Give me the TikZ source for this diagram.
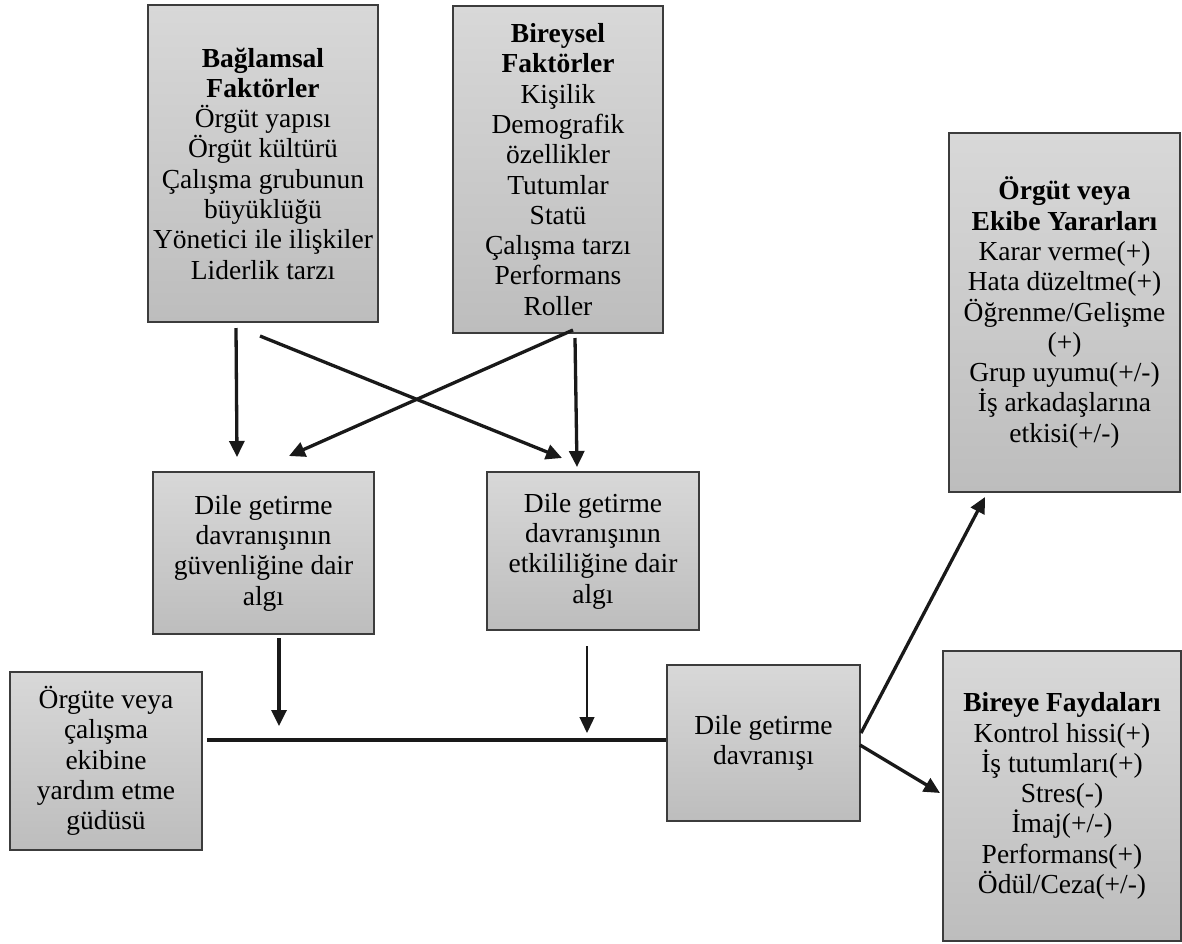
\documentclass[tikz,border=0pt]{standalone}
\usepackage{fontspec}
\setmainfont{Liberation Serif}
\usetikzlibrary{arrows.meta}
\definecolor{boxtop}{RGB}{216,216,216}
\definecolor{boxbot}{RGB}{189,189,189}
\definecolor{boxline}{RGB}{60,60,60}
\definecolor{arrcol}{RGB}{25,25,25}
\tikzset{
  box/.style={draw=boxline, line width=1.1pt, top color=boxtop, bottom color=boxbot,
    align=center, inner sep=0pt, font=\fontsize{27.5}{30.3}\selectfont},
  arr/.style={draw=arrcol, line width=3.3pt, -{Triangle[length=16pt,width=15pt]}},
  thinarr/.style={draw=arrcol, line width=1.3pt, -{Triangle[length=16pt,width=15pt]}},
  hline/.style={draw=arrcol, line width=4pt}
}
\begin{document}
\begin{tikzpicture}[x=1pt,y=-1pt]
\useasboundingbox (0,0) rectangle (1182,943);
\fill[white] (0,0) rectangle (1182,943);

\node[box, minimum width=230pt, minimum height=317pt] (b1) at (263,163.5)
  {\textbf{Bağlamsal}\\\textbf{Faktörler}\\Örgüt yapısı\\Örgüt kültürü\\Çalışma grubunun\\büyüklüğü\\Yönetici ile ilişkiler\\Liderlik tarzı};
\node[box, minimum width=210pt, minimum height=327pt] (b2) at (558,169.5)
  {\textbf{Bireysel}\\\textbf{Faktörler}\\Kişilik\\Demografik\\özellikler\\Tutumlar\\Statü\\Çalışma tarzı\\Performans\\Roller};
\node[box, minimum width=231pt, minimum height=359pt] (b3) at (1064.5,312.5)
  {\textbf{Örgüt veya}\\\textbf{Ekibe Yararları}\\Karar verme(+)\\Hata düzeltme(+)\\Öğrenme/Gelişme\\(+)\\Grup uyumu(+/-)\\İş arkadaşlarına\\etkisi(+/-)};
\node[box, minimum width=221pt, minimum height=162pt] (b4) at (263.5,553)
  {Dile getirme\\davranışının\\güvenliğine dair\\algı};
\node[box, minimum width=212pt, minimum height=158pt] (b5) at (593,551)
  {Dile getirme\\davranışının\\etkililiğine dair\\algı};
\node[box, minimum width=192pt, minimum height=178pt] (b6) at (106,761)
  {Örgüte veya\\çalışma\\ekibine\\yardım etme\\güdüsü};
\node[box, minimum width=193pt, minimum height=156pt] (b7) at (763.5,743)
  {Dile getirme\\davranışı};
\node[box, minimum width=238pt, minimum height=290pt] (b8) at (1062,796)
  {\textbf{Bireye Faydaları}\\Kontrol hissi(+)\\İş tutumları(+)\\Stres(-)\\İmaj(+/-)\\Performans(+)\\Ödül/Ceza(+/-)};

% free ends
\coordinate (a1s) at (236,328);
\coordinate (a1e) at (237,457);
\coordinate (a2s) at (260,336);
\coordinate (a2e) at (562,458);
\coordinate (a3s) at (573,330);
\coordinate (a3e) at (289,456);
\coordinate (a4s) at (575,338);
\coordinate (a4e) at (577,467);
\coordinate (a5s) at (279,638);
\coordinate (a5e) at (279,726);
\coordinate (a6s) at (587,646);
\coordinate (a6e) at (587,733);
\coordinate (hs) at (207,740);
\coordinate (r1s) at (861,733);
\coordinate (r1e) at (985,497);
\coordinate (r2s) at (860,745);
\coordinate (r2e) at (940,793);

\draw[arr] (a1s) -- (a1e);
\draw[arr] (a2s) -- (a2e);
\draw[arr] (a3s) -- (a3e);
\draw[arr] (a4s) -- (a4e);
\draw[arr] (a5s) -- (a5e);
\draw[thinarr] (a6s) -- (a6e);
\draw[hline] (hs) -- (hs -| b7.west);
\draw[arr] (r1s) -- (r1e);
\draw[arr] (r2s) -- (r2e);
\end{tikzpicture}
\end{document}
